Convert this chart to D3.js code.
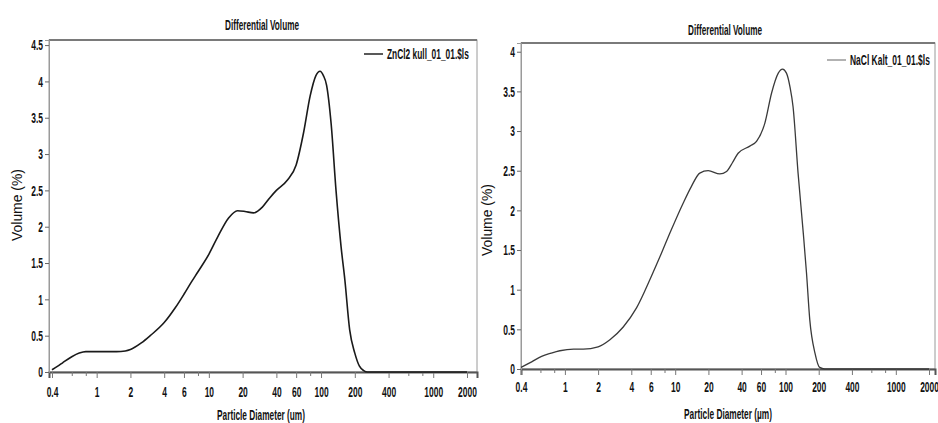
<!DOCTYPE html>
<html>
<head>
<meta charset="utf-8">
<script src="https://cdn.jsdelivr.net/npm/d3@7"></script>
<style>
  html, body { margin: 0; padding: 0; background: #fff; }
  svg { display: block; }
  text { font-family: "Liberation Sans", Arial, sans-serif; fill: #111; }
</style>
</head>
<body>
<svg id="chart" width="938" height="423"></svg>
<script>
// ---------- data ----------
const leftDiameter = [0.4, 0.45, 0.5, 0.6, 0.7, 0.8, 1, 1.5, 1.8, 2, 2.5, 3, 4, 5, 6, 7, 8, 10, 12, 15, 18, 21, 25, 30, 35, 40, 50, 60, 70, 80, 90, 98, 105, 112, 123, 136, 151, 163, 180, 200, 220, 240, 260, 300, 2000];
const leftVolume   = [0.03, 0.08, 0.13, 0.21, 0.26, 0.28, 0.28, 0.28, 0.29, 0.31, 0.40, 0.50, 0.68, 0.88, 1.07, 1.24, 1.38, 1.62, 1.86, 2.12, 2.22, 2.21, 2.19, 2.27, 2.40, 2.50, 2.64, 2.85, 3.30, 3.80, 4.08, 4.14, 4.08, 3.95, 3.42, 2.50, 1.72, 1.27, 0.58, 0.26, 0.08, 0.02, 0.0, 0.0, 0.0];

const rightDiameter = [0.4, 0.5, 0.615, 0.75, 0.9, 1.2, 1.47, 2, 2.56, 3.38, 4.46, 6, 7.3, 8.93, 11.8, 14, 16.7, 19.9, 25.4, 29.2, 33, 37.2, 47.5, 54.6, 65, 74.8, 86, 94, 102, 110, 117, 130, 145, 155, 166, 185, 204, 227, 260, 2000];
const rightVolume   = [0.02, 0.09, 0.16, 0.20, 0.23, 0.25, 0.25, 0.28, 0.37, 0.53, 0.77, 1.15, 1.42, 1.71, 2.09, 2.30, 2.47, 2.50, 2.46, 2.49, 2.60, 2.72, 2.81, 2.87, 3.10, 3.48, 3.73, 3.78, 3.73, 3.55, 3.31, 2.47, 1.71, 1.21, 0.62, 0.20, 0.02, 0.0, 0.0, 0.0];

const xTickValues = [0.4, 0.6, 0.8, 1, 2, 4, 6, 8, 10, 20, 40, 60, 80, 100, 200, 400, 600, 800, 1000, 2000];
const xTickLabels = ["0.4", "", "", "1", "2", "4", "6", "", "10", "20", "40", "60", "", "100", "200", "400", "", "", "1000", "2000"];

const leftYTicks  = [0, 0.5, 1, 1.5, 2, 2.5, 3, 3.5, 4, 4.5];
const rightYTicks = [0, 0.5, 1, 1.5, 2, 2.5, 3, 3.5, 4];

const chartTitle = "Differential Volume";
const leftLegend = "ZnCl2 kull_01_01.$ls";
const rightLegend = "NaCl Kalt_01_01.$ls";
const leftXTitle = "Particle Diameter (um)";
const rightXTitle = "Particle Diameter (\u00b5m)";
const yTitle = "Volume (%)";

// ---------- drawing ----------
const svg = d3.select("#chart");

function numWidth(s) {
  let w = 0;
  for (const c of s) w += (c === ".") ? 2.4 : 4.7;
  return w;
}
// squeeze a text horizontally (condensed font look) around its anchor point
function condense(sel, width) {
  sel.each(function() {
    const t = d3.select(this);
    const natural = this.getComputedTextLength();
    if (!natural) return;
    const sx = width / natural;
    const x = +t.attr("x") || 0, y = +t.attr("y") || 0;
    t.attr("x", 0).attr("y", 0)
     .attr("transform", `translate(${x},${y}) scale(${sx},1)`);
  });
}

function drawPanel(cfg) {
  const g = svg.append("g");
  const x = d3.scaleLog().domain(cfg.xDomain).range([cfg.left, cfg.right]);
  const y = d3.scaleLinear().domain(cfg.yDomain).range([cfg.bottom, cfg.top]);

  // frame
  g.append("rect")
    .attr("x", cfg.left).attr("y", cfg.top)
    .attr("width", cfg.right - cfg.left).attr("height", cfg.bottom - cfg.top)
    .attr("fill", "none").attr("stroke", "#9a9a9a").attr("stroke-width", 1);
  g.append("line")
    .attr("x1", cfg.left).attr("x2", cfg.right)
    .attr("y1", cfg.top).attr("y2", cfg.top)
    .attr("stroke", "#7a7a7a").attr("stroke-width", 2);

  // x axis
  const labelMap = new Map(xTickValues.map((v, i) => [v, xTickLabels[i]]));
  const xa = g.append("g")
    .attr("transform", `translate(0,${cfg.bottom})`)
    .call(d3.axisBottom(x).tickValues(xTickValues).tickSize(6).tickPadding(cfg.xPad)
      .tickFormat(d => labelMap.get(d)));
  xa.select(".domain").attr("stroke", "#555").attr("stroke-width", 2);
  xa.selectAll(".tick line").attr("stroke", "#777")
    .attr("y2", d => labelMap.get(d) ? 6 : 4);
  xa.selectAll(".tick text")
    .attr("font-size", 15).attr("font-weight", "bold")
    .attr("font-family", "'Liberation Sans', sans-serif").attr("fill", "#1a1a1a")
    .each(function(d) {
      const s = labelMap.get(d);
      if (s) d3.select(this).call(condense, numWidth(s));
    });

  // y axis
  const ya = g.append("g")
    .attr("transform", `translate(${cfg.left},0)`)
    .call(d3.axisLeft(y).tickValues(cfg.yTicks).tickSize(4).tickPadding(2)
      .tickFormat(d => String(d)));
  ya.select(".domain").attr("stroke", "#9a9a9a").attr("stroke-width", 1);
  ya.selectAll(".tick line").attr("stroke", "#666");
  ya.selectAll(".tick text")
    .attr("font-size", 15).attr("font-weight", "bold")
    .attr("font-family", "'Liberation Sans', sans-serif").attr("fill", "#1a1a1a")
    .each(function(d) { d3.select(this).call(condense, numWidth(String(d))); });

  // curve
  const line = d3.line()
    .x(d => x(d[0])).y(d => y(d[1]))
    .curve(d3.curveMonotoneX);
  const pts = cfg.diam.map((d, i) => [d, cfg.vol[i]]).filter(p => p[0] <= cfg.xDomain[1]);
  g.append("path").datum(pts)
    .attr("d", line).attr("fill", "none")
    .attr("stroke", cfg.lineColor).attr("stroke-width", cfg.lineWidth);

  // title
  g.append("text").attr("x", cfg.titleX).attr("y", cfg.titleY)
    .attr("text-anchor", "middle").attr("font-size", 14).attr("font-weight", "bold")
    .attr("fill", "#1a1a1a")
    .text(chartTitle).call(condense, 74);

  // legend
  g.append("line")
    .attr("x1", cfg.legX).attr("x2", cfg.legX + 19)
    .attr("y1", cfg.legY).attr("y2", cfg.legY)
    .attr("stroke", cfg.legColor).attr("stroke-width", 1.5);
  g.append("text").attr("x", cfg.legX + 23).attr("y", cfg.legY + 5)
    .attr("font-size", 14).attr("font-weight", "bold").attr("fill", "#1a1a1a")
    .text(cfg.legend).call(condense, cfg.legW);

  // axis titles
  g.append("text").attr("x", cfg.xTitleX).attr("y", cfg.xTitleY)
    .attr("text-anchor", "middle").attr("font-size", 14).attr("font-weight", "bold")
    .attr("fill", "#1a1a1a")
    .text(cfg.xTitle).call(condense, 88);
  g.append("g")
    .attr("transform", `translate(${cfg.yTitleX},${cfg.yTitleY}) rotate(-90)`)
    .append("text")
    .attr("text-anchor", "middle").attr("font-size", 14).attr("fill", "#333")
    .text(yTitle).call(condense, 72);
}

drawPanel({
  left: 49, right: 477, top: 40, bottom: 372,
  xDomain: [0.376, 2456], yDomain: [0, 4.57], yTicks: leftYTicks, xPad: 8,
  diam: leftDiameter, vol: leftVolume,
  lineColor: "#1a1a1a", lineWidth: 1.6,
  titleX: 262, titleY: 30,
  legX: 364, legY: 54, legColor: "#222", legend: leftLegend, legW: 82,
  xTitle: leftXTitle, xTitleX: 261, xTitleY: 420,
  yTitleX: 22, yTitleY: 205
});

drawPanel({
  left: 521, right: 935, top: 43, bottom: 369,
  xDomain: [0.4, 2266], yDomain: [0, 4.11], yTicks: rightYTicks, xPad: 6,
  diam: rightDiameter, vol: rightVolume,
  lineColor: "#3a3a3a", lineWidth: 1.3,
  titleX: 725, titleY: 35,
  legX: 827, legY: 60, legColor: "#999", legend: rightLegend, legW: 80,
  xTitle: rightXTitle, xTitleX: 728, xTitleY: 419,
  yTitleX: 492, yTitleY: 220
});
</script>
</body>
</html>
